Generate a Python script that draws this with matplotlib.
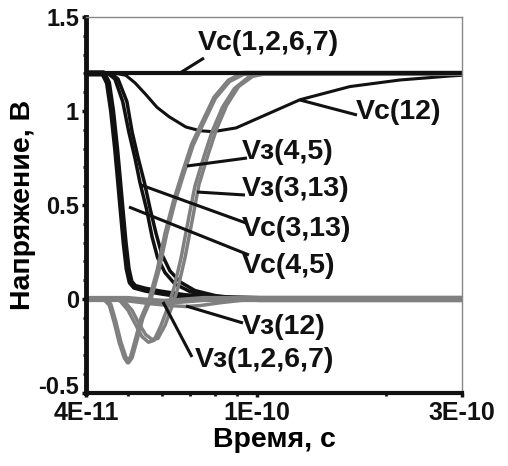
import numpy as np
import matplotlib
matplotlib.use("Agg")
import matplotlib.pyplot as plt
import matplotlib.transforms as mtransforms
from matplotlib.ticker import FixedLocator, NullFormatter

plt.rcParams['font.family'] = ['Liberation Sans', 'DejaVu Sans']
plt.rcParams['font.weight'] = 'bold'

# ---- data (time in ps, voltage in V) ----
vc_1267_t = [40, 300]
vc_1267_v = [1.2, 1.2]

vc_12_t = [40, 47.0, 49.5, 52.0, 55.0, 58.5, 62.4, 68.3, 73.7, 79.0, 89.4, 104.9, 125.9, 164.6, 215.2, 281.0, 300]
vc_12_v = [1.2, 1.2, 1.19, 1.15, 1.09, 1.02, 0.97, 0.915, 0.895, 0.89, 0.91, 0.98, 1.06, 1.13, 1.165, 1.186, 1.19]

vc_45_t = [40, 43.9, 45.0, 46.0, 47.0, 47.7, 48.3, 49.2, 50.0, 50.8, 51.9, 54.9, 59.5, 68.0, 82.0, 101.6, 300]
vc_45_v = [1.2, 1.2, 1.15, 1.0, 0.8, 0.64, 0.5, 0.3, 0.16, 0.09, 0.065, 0.05, 0.035, 0.015, 0.005, 0.0, 0.0]

vc_313a_t = [40, 45.0, 46.7, 48.7, 50.3, 52.0, 53.4, 55.3, 57.0, 58.7, 61.1, 64.4, 69.8, 77.7, 91.3, 300]
vc_313a_v = [1.2, 1.2, 1.17, 1.05, 0.89, 0.75, 0.62, 0.48, 0.33, 0.22, 0.14, 0.08, 0.04, 0.015, 0.0, 0.0]
vc_313b_t = [40, 45.8, 47.5, 49.8, 51.2, 52.9, 54.7, 56.4, 58.2, 60.0, 62.7, 66.3, 71.7, 80.0, 93.9, 300]
vc_313b_v = [1.2, 1.2, 1.17, 1.05, 0.89, 0.75, 0.62, 0.48, 0.35, 0.24, 0.15, 0.09, 0.045, 0.018, 0.0, 0.0]

vz_45_t = [40, 44.2, 45.5, 46.7, 48.0, 49.3, 50.1, 51.0, 52.3, 54.0, 56.4, 58.8, 61.4, 64.2, 67.1, 70.7, 74.5, 79.7, 86.0, 93.0, 300]
vz_45_v = [0.0, 0.0, -0.03, -0.12, -0.23, -0.31, -0.335, -0.31, -0.22, -0.1, 0.0, 0.15, 0.35, 0.52, 0.66, 0.82, 0.93, 1.07, 1.16, 1.2, 1.2]

vz_313a_t = [40, 46.7, 48.0, 50.1, 52.0, 54.0, 55.9, 57.6, 59.8, 62.1, 64.1, 66.6, 69.2, 71.7, 75.3, 78.6, 83.1, 88.6, 95.6, 103.0, 300]
vz_313a_v = [0.0, 0.0, -0.01, -0.06, -0.13, -0.2, -0.23, -0.22, -0.14, -0.04, 0.06, 0.22, 0.42, 0.6, 0.76, 0.89, 1.02, 1.12, 1.18, 1.2, 1.2]
vz_313b_t = [40, 47.5, 49.0, 51.2, 53.1, 55.1, 57.0, 58.8, 61.1, 63.4, 65.5, 68.0, 70.7, 73.3, 77.0, 80.4, 85.0, 90.6, 97.8, 106.0, 300]
vz_313b_v = [0.0, 0.0, -0.01, -0.06, -0.13, -0.19, -0.215, -0.21, -0.14, -0.04, 0.06, 0.22, 0.42, 0.61, 0.77, 0.9, 1.03, 1.13, 1.185, 1.2, 1.2]

vz_12_t = [40, 45.5, 50.1, 56.4, 62.7, 68.3, 73.7, 82.0, 91.3, 101.6, 300]
vz_12_v = [0.0, 0.0, -0.01, -0.025, -0.035, -0.04, -0.035, -0.02, -0.008, 0.0, 0.0]

vz_1267_t = [40, 50.0, 56.0, 61.0, 66.0, 75.0, 300]
vz_1267_v = [0.0, 0.0, -0.01, -0.015, -0.01, 0.0, 0.0]

xtick_vals = [4e-11, 1e-10, 3e-10]
xtick_labels = ['4E-11', '1E-10', '3E-10']
ytick_vals = [-0.5, 0, 0.5, 1, 1.5]
ytick_labels = ['-0.5', '0', '0.5', '1', '1.5']

# ---- figure ----
W, H = 508, 466
fig = plt.figure(figsize=(W / 100, H / 100), dpi=100)
L, R, T, B = 86, 462, 17, 393
ax = fig.add_axes([L / W, 1 - B / H, (R - L) / W, (B - T) / H])
ax.set_xscale('log')
ax.set_xlim(4e-11, 3e-10)
ax.set_ylim(-0.5, 1.5)

ps = 1e-12
blk = '#111111'
gry = '#808080'

def tt(a):
    return np.array(a) * ps

ax.plot(tt(vc_45_t), vc_45_v, color=blk, lw=4.5)
ax.plot(tt(vc_313a_t), vc_313a_v, color=blk, lw=2.5)
ax.plot(tt(vc_313b_t), vc_313b_v, color=blk, lw=2.5)
ax.plot(tt(vc_12_t), vc_12_v, color=blk, lw=2.2)
ax.plot(tt(vz_1267_t), vz_1267_v, color=gry, lw=4.5)
ax.plot(tt(vz_12_t), vz_12_v, color=gry, lw=2.5)
ax.plot(tt(vz_45_t), vz_45_v, color=gry, lw=3.8)
ax.plot(tt(vz_313a_t), vz_313a_v, color=gry, lw=2.5)
ax.plot(tt(vz_313b_t), vz_313b_v, color=gry, lw=2.5)
ax.plot(tt(vc_1267_t), vc_1267_v, color=blk, lw=3)

# ---- axes styling ----
for s in ['top', 'right']:
    ax.spines[s].set_color('#888888')
    ax.spines[s].set_linewidth(1)
ax.spines['left'].set_linewidth(3.5)
ax.spines['bottom'].set_linewidth(3)
ax.spines['left'].set_color(blk)
ax.spines['bottom'].set_color(blk)

ax.xaxis.set_major_locator(FixedLocator(xtick_vals))
ax.set_xticklabels(xtick_labels)
ax.xaxis.set_minor_locator(FixedLocator([5e-11, 6e-11, 7e-11, 8e-11, 9e-11, 2e-10]))
ax.xaxis.set_minor_formatter(NullFormatter())
ax.set_yticks(ytick_vals)
ax.set_yticklabels(ytick_labels)
ax.yaxis.set_minor_locator(FixedLocator(np.arange(-0.5, 1.51, 0.1)))
ax.tick_params(axis='both', which='major', direction='out', length=3, width=2.5,
               pad=2, colors=blk)
ax.tick_params(axis='x', which='major', labelsize=18, pad=3)
ax.tick_params(axis='y', which='major', labelsize=17)
ax.tick_params(axis='both', which='minor', direction='out', length=2.5, width=2, colors=blk)
for lab in ax.get_xticklabels() + ax.get_yticklabels():
    lab.set_fontweight('bold')
ylabs = ax.get_yticklabels()
ylabs[0].set_transform(ylabs[0].get_transform() +
                       mtransforms.ScaledTranslation(0, 8 / 100, fig.dpi_scale_trans))

ax.set_xlabel('Время, с', fontsize=20.5, fontweight='bold', labelpad=1)
ax.set_ylabel('Напряжение, В', fontsize=20.5, fontweight='bold', labelpad=2)

# ---- annotations (pixel positions -> data) ----
k = (R - L) / np.log10(3e-10 / 4e-11)
def px2t(x):
    return 4e-11 * 10 ** ((x - L) / k)
def px2v(y):
    return 1.5 - (y - T) / (B - T) * 2.0

labels = [
    ('Vс(1,2,6,7)', (180, 73), (204, 58), (198, 43)),
    ('Vс(12)', (300, 100), (357, 115), (356, 112)),
    ('Vз(4,5)', (187, 166), (247, 158), (242, 152)),
    ('Vз(3,13)', (197, 192), (245, 195), (242, 189)),
    ('Vс(3,13)', (141, 185), (246, 223), (242, 229)),
    ('Vс(4,5)', (129, 207), (249, 255), (242, 266)),
    ('Vз(12)', (186, 306), (243, 323), (242, 327)),
    ('Vз(1,2,6,7)', (163, 302), (192, 357), (195, 360)),
]
for txt, p0, p1, ptxt in labels:
    ax.plot([px2t(p0[0]), px2t(p1[0])], [px2v(p0[1]), px2v(p1[1])], color=blk, lw=2.2,
            solid_capstyle='butt', clip_on=False)
    ax.text(px2t(ptxt[0]), px2v(ptxt[1]), txt, fontsize=20.5, fontweight='bold',
            ha='left', va='center', color=blk)

fig.savefig('out.png', dpi=100)
